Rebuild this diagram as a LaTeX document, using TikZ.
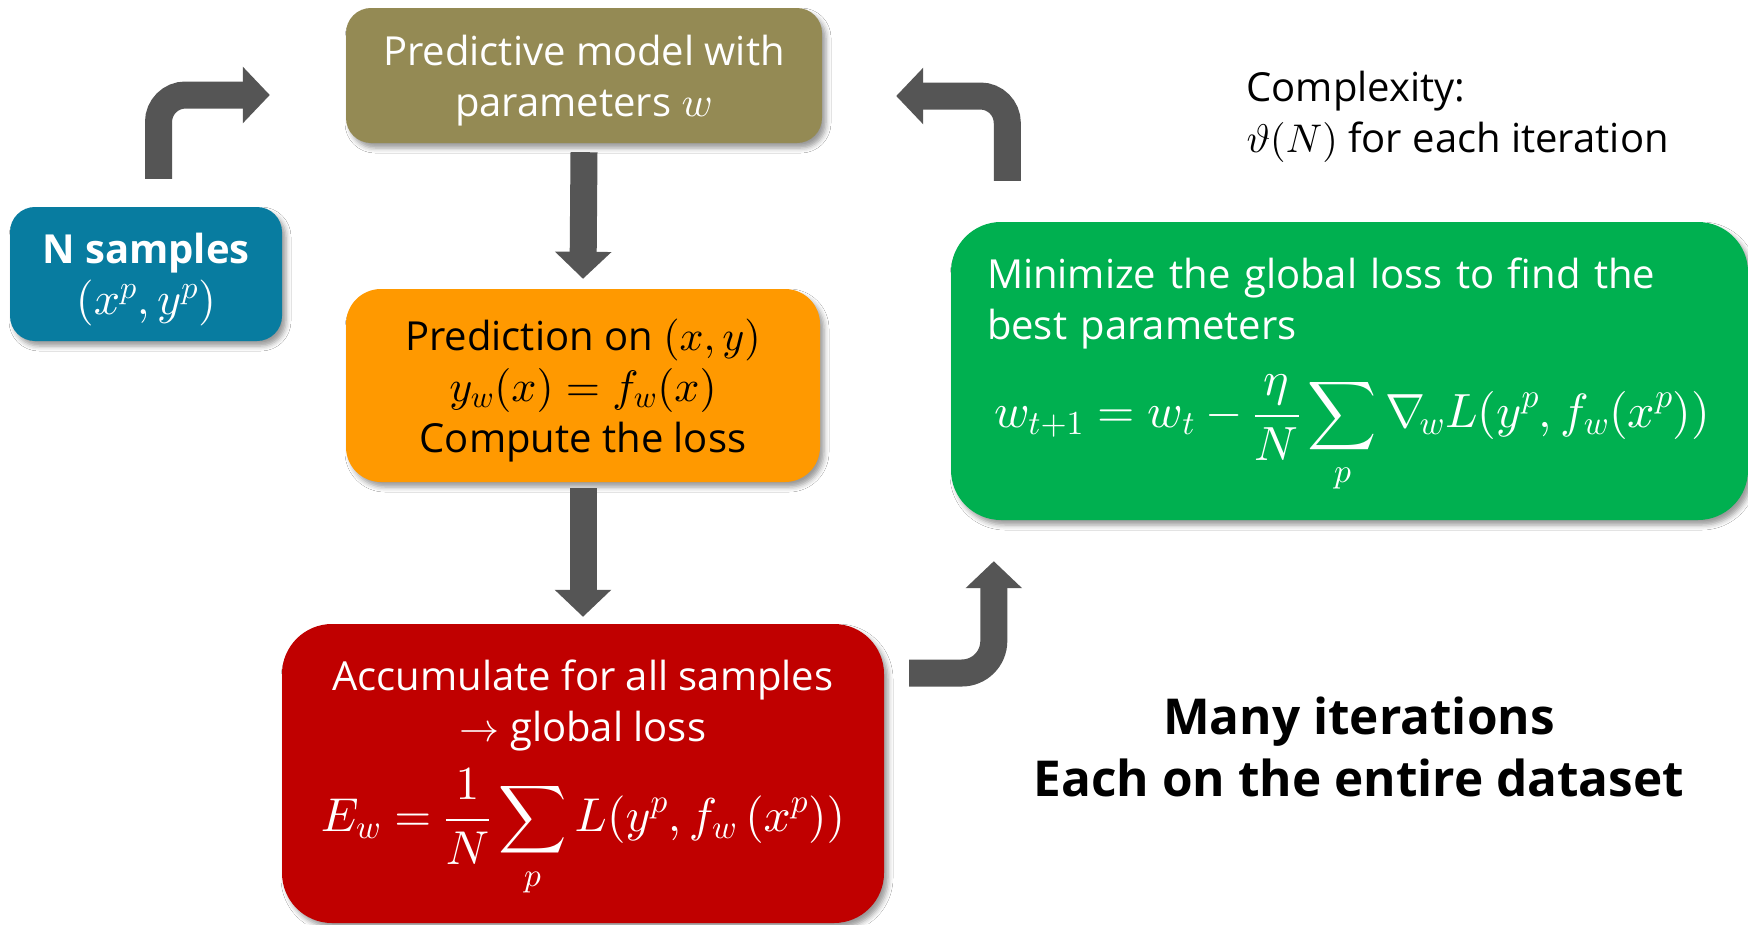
\documentclass[tikz,border=0pt]{standalone}
\usepackage{amsmath}
\usepackage{fontspec}
\setmainfont{Open Sans}
\DeclareFontShape{OML}{cmm}{m}{it}{<-> cmmi10}{\skewchar\font'177}
\DeclareFontShape{OMS}{cmsy}{m}{n}{<-> cmsy10}{\skewchar\font'60}
\DeclareFontShape{OT1}{cmr}{m}{n}{<-> cmr10}{}
\DeclareFontShape{OMX}{cmex}{m}{n}{<-> cmex10}{}
\newcommand\tallline[1]{\rule{0pt}{#1}}
\newcommand\mathsz[1]{\fontsize{#1}{51}\selectfont}
\usetikzlibrary{arrows.meta,calc,shadows.blur}
\definecolor{olivebox}{HTML}{948A54}
\definecolor{tealbox}{HTML}{087CA0}
\definecolor{orangebox}{HTML}{FF9900}
\definecolor{redbox}{HTML}{C00000}
\definecolor{greenbox}{HTML}{00B050}
\definecolor{arrowgray}{HTML}{555555}
\begin{document}
\begin{tikzpicture}[x=1pt,y=-1pt,
  box/.style={rounded corners=#1, align=center, inner sep=0pt, text=white,
    blur shadow={shadow xshift=4pt, shadow yshift=-5pt, shadow blur radius=5pt, shadow opacity=40}},
  txt/.style={font=\fontsize{40}{51}\selectfont},
  blockarrow/.style={draw=arrowgray, line width=27pt, -{Triangle[width=55pt,length=27pt]}},
]
\useasboundingbox (0,0) rectangle (1748,924);
\fill[white] (0,0) rectangle (1748,924);

\node[box=25pt, fill=olivebox, minimum width=476pt, minimum height=135pt, txt] (olive) at (584,75.5)
  {\tallline{41pt}Predictive model with\\parameters {\mathsz{42}$w$}};
\node[box=25pt, fill=tealbox, minimum width=272pt, minimum height=134pt, txt] (teal) at (146,274)
  {\tallline{42pt}\textbf{N samples}\\{\mathsz{46}$(x^p,y^p)$}};
\node[box=35pt, fill=orangebox, minimum width=474pt, minimum height=193pt, txt, text=black] (orange) at (583,385.5)
  {\tallline{41pt}Prediction on {\mathsz{42}$(x,y)$}\\{\mathsz{44}$y_w(x)=f_w(x)$}\\Compute the loss};
\node[box=50pt, fill=redbox, minimum width=602pt, minimum height=299pt, txt] (red) at (583,773.5)
  {\tallline{41pt}Accumulate for all samples\\$\rightarrow$ global loss\\[17pt]{\mathsz{47.5}$\displaystyle E_w=\frac{1}{N}\sum_{p}L(y^p,f_w\,(x^p))$}};
\node[box=50pt, fill=greenbox, minimum width=797pt, minimum height=298pt, txt, text width=725pt, align=left] (green) at (1349.5,371)
  {\tallline{41pt}Minimize the global loss to find the\\best parameters\\[24pt]{\mathsz{48}\hspace*{7pt}$\displaystyle w_{t+1}=w_t-\frac{\eta}{N}\sum_{p}\nabla_{\!w}L(y^p,f_w(x^p))$}};

\node[txt, align=left, anchor=west] (cx) at (1243,112) {\tallline{39pt}Complexity:\\$\vartheta(N)$ for each iteration};
\node[font=\bfseries\fontsize{49.5}{62}\selectfont, align=center] (many) at (1359,747) {Many iterations\\Each on the entire dataset};

\draw[blockarrow, rounded corners=27pt] ($(teal.north)+(12.5,-28)$) |- ($(olive.west)+(-76,19.5)$);
\draw[blockarrow] ($(olive.south)+(0,9)$) -- ($(orange.north)+(0,-10)$);
\draw[blockarrow] ($(orange.south)+(0,6)$) -- ($(red.north)+(0,-7)$);
\draw[blockarrow, rounded corners=32pt] ($(red.east)+(25,-100.5)$) -| ($(green.south west)+(43,41)$);
\draw[blockarrow, rounded corners=27pt] ($(green.north west)+(56.5,-41)$) |- ($(olive.east)+(74,20.5)$);
\end{tikzpicture}
\end{document}
